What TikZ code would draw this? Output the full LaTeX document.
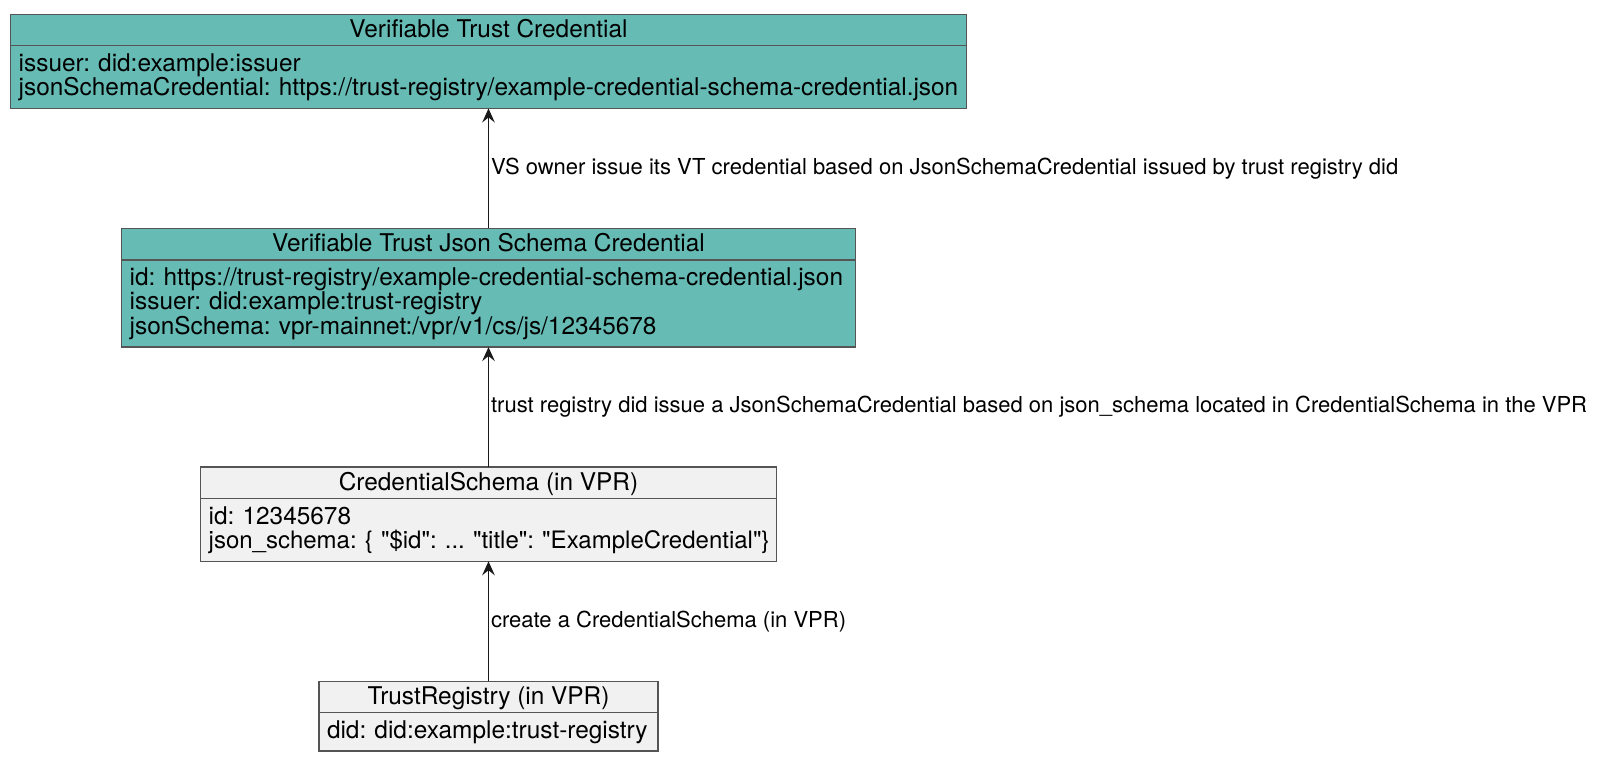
\documentclass[tikz,border=0pt]{standalone}
\usepackage{fontspec}
\setmainfont{TeX Gyre Heros}
\usetikzlibrary{positioning,arrows.meta}

\definecolor{vtfillc}{HTML}{66BBB5}
\definecolor{vprfillc}{HTML}{F1F1F1}
\definecolor{umlline}{HTML}{555555}

\begin{document}
\frenchspacing
\hyphenpenalty=10000
\exhyphenpenalty=10000
\begin{tikzpicture}[
      node distance=60pt,
      classhead/.style={draw=umlline, line width=0.6pt, minimum height=15.8pt, inner sep=0pt, outer sep=0pt,
        text height=9.4pt, text depth=2.2pt, font=\fontsize{12.2}{12.2}\selectfont},
      classbody/.style={draw=umlline, line width=0.6pt, inner xsep=4pt, inner ysep=0pt, outer sep=0pt,
        align=left, font=\fontsize{12.2}{12.2}\selectfont},
      vtfill/.style={fill=vtfillc},
      vprfill/.style={fill=vprfillc},
      arrow/.style={-{Stealth[length=7pt,width=6.3pt,inset=2.5pt]}, line width=0.6pt, draw=black!90, fill=black!90},
      edgelabel/.style={anchor=west, inner sep=1pt, fill=none, font=\fontsize{11}{11}\selectfont}
    ]
    \useasboundingbox (0,0) rectangle (807pt,-387pt);

    % credential issued by the VS owner
    \node[classhead, vtfill, minimum width=477.8pt, anchor=north] (vtc) at (244.25pt,-7.15pt) {Verifiable Trust Credential};
    \node[classbody, vtfill, text width=469.8pt, minimum height=31.3pt, below=0pt of vtc] (vtc-attr)
      {issuer: did:example:issuer\\
       \mbox{jsonSchemaCredential: https://trust-registry/example-credential-schema-credential.json}};

    % json schema credential
    \node[classhead, vtfill, minimum width=366.8pt, below=of vtc-attr] (vtjsc) {Verifiable Trust Json Schema Credential};
    \node[classbody, vtfill, text width=358.8pt, minimum height=43.5pt, below=0pt of vtjsc] (vtjsc-attr)
      {\mbox{id: https://trust-registry/example-credential-schema-credential.json}\\
       issuer: did:example:trust-registry\\
       jsonSchema: vpr-mainnet:/vpr/v1/cs/js/12345678};

    % objects in the VPR
    \node[classhead, vprfill, minimum width=287.8pt, below=of vtjsc-attr] (cs) {CredentialSchema (in VPR)};
    \node[classbody, vprfill, text width=279.8pt, minimum height=31.3pt, below=0pt of cs] (cs-attr)
      {id: 12345678\\
       \mbox{\fontsize{12}{12.2}\selectfont json\_schema: \{ \textquotedbl\$id\textquotedbl: ... \textquotedbl title\textquotedbl: \textquotedbl ExampleCredential\textquotedbl\}}};

    \node[classhead, vprfill, minimum width=169.5pt, below=of cs-attr] (tr) {TrustRegistry (in VPR)};
    \node[classbody, vprfill, text width=161.5pt, minimum height=19.1pt, below=0pt of tr] (tr-attr)
      {did: did:example:trust-registry};

    \draw[arrow] (vtjsc) -- node[edgelabel] {VS owner issue its VT credential based on JsonSchemaCredential issued by trust registry did} (vtc-attr);
    \draw[arrow] (cs) -- node[edgelabel] {trust registry did issue a JsonSchemaCredential based on json\_schema located in CredentialSchema in the VPR} (vtjsc-attr);
    \draw[arrow] (tr) -- node[edgelabel] {create a CredentialSchema (in VPR)} (cs-attr);
  \end{tikzpicture}
\end{document}
